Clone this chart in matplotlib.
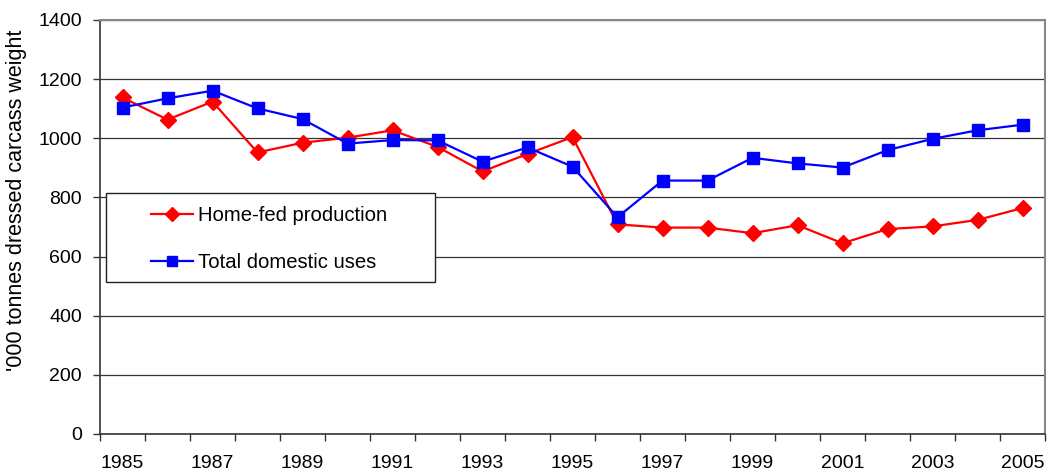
import matplotlib
matplotlib.use("Agg")
import matplotlib.pyplot as plt
from matplotlib.ticker import FixedLocator
from matplotlib.patches import Rectangle

plt.rcParams['font.family'] = ['Liberation Sans', 'DejaVu Sans']

years = list(range(1985, 2006))
home_fed = [1138, 1063, 1124, 952, 985, 1002, 1027, 971, 888, 947, 1004,
            709, 698, 698, 679, 706, 645, 693, 702, 724, 764]
total_domestic = [1104, 1135, 1161, 1101, 1065, 982, 994, 993, 921, 969, 904,
                  733, 857, 857, 934, 915, 901, 960, 998, 1027, 1046]
year_labels = [str(y) for y in years]

W, H = 1050, 475
fig = plt.figure(figsize=(W / 100, H / 100), dpi=100)
ax_l, ax_r, ax_t, ax_b = 100, 1045, 20, 434
ax = fig.add_axes([ax_l / W, (H - ax_b) / H, (ax_r - ax_l) / W, (ax_b - ax_t) / H])

x = list(range(len(years)))
ax.plot(x, home_fed, color='#ff0000', marker='D', markersize=8, linewidth=1.6,
        label='Home-fed production', zorder=3)
ax.plot(x, total_domestic, color='#0000ff', marker='s', markersize=9, linewidth=1.6,
        label='Total domestic uses', zorder=3)

ax.set_xlim(-0.5, len(years) - 0.5)
ax.set_ylim(0, 1400)
ax.set_yticks(range(0, 1401, 200))
ax.yaxis.grid(True, color='#333333', linewidth=0.9)
ax.set_axisbelow(True)

ax.xaxis.set_major_locator(FixedLocator(x[::2]))
ax.set_xticklabels(year_labels[::2])
ax.xaxis.set_minor_locator(FixedLocator([i - 0.5 for i in range(len(years) + 1)]))
ax.tick_params(axis='x', which='major', length=0, pad=15, labelsize=14)
ax.tick_params(axis='x', which='minor', length=5, width=1, direction='out', color='#333333')
ax.tick_params(axis='y', length=5, width=1, direction='out', labelsize=14, pad=8, color='#333333')

for s in ['left', 'bottom']:
    ax.spines[s].set_color('#333333')
    ax.spines[s].set_linewidth(1.2)
for s in ['top', 'right']:
    ax.spines[s].set_color('#888888')
    ax.spines[s].set_linewidth(1.5)

fig.text(17 / W, 1 - 200 / H, "'000 tonnes dressed carcass weight", rotation=90,
         ha='center', va='center', fontsize=15.5)

# legend box (white, framed)
def ax_x(px):
    return (px - ax_l) / (ax_r - ax_l)

def ax_y(py):
    return (ax_b - py) / (ax_b - ax_t)

box = Rectangle((ax_x(106), ax_y(282)), ax_x(435) - ax_x(106), ax_y(193) - ax_y(282),
                transform=ax.transAxes, facecolor='white', edgecolor='#222222',
                linewidth=1.0, zorder=5)
ax.add_patch(box)

leg = ax.legend(loc='upper left', bbox_to_anchor=(ax_x(151), ax_y(206)),
                frameon=False, fontsize=14.6, borderpad=0,
                labelspacing=1.4, handlelength=2.05, handletextpad=0.28,
                borderaxespad=0)
leg.set_zorder(6)
for h in leg.legend_handles:
    h.set_markersize(7)

fig.savefig('out.png', dpi=100)
